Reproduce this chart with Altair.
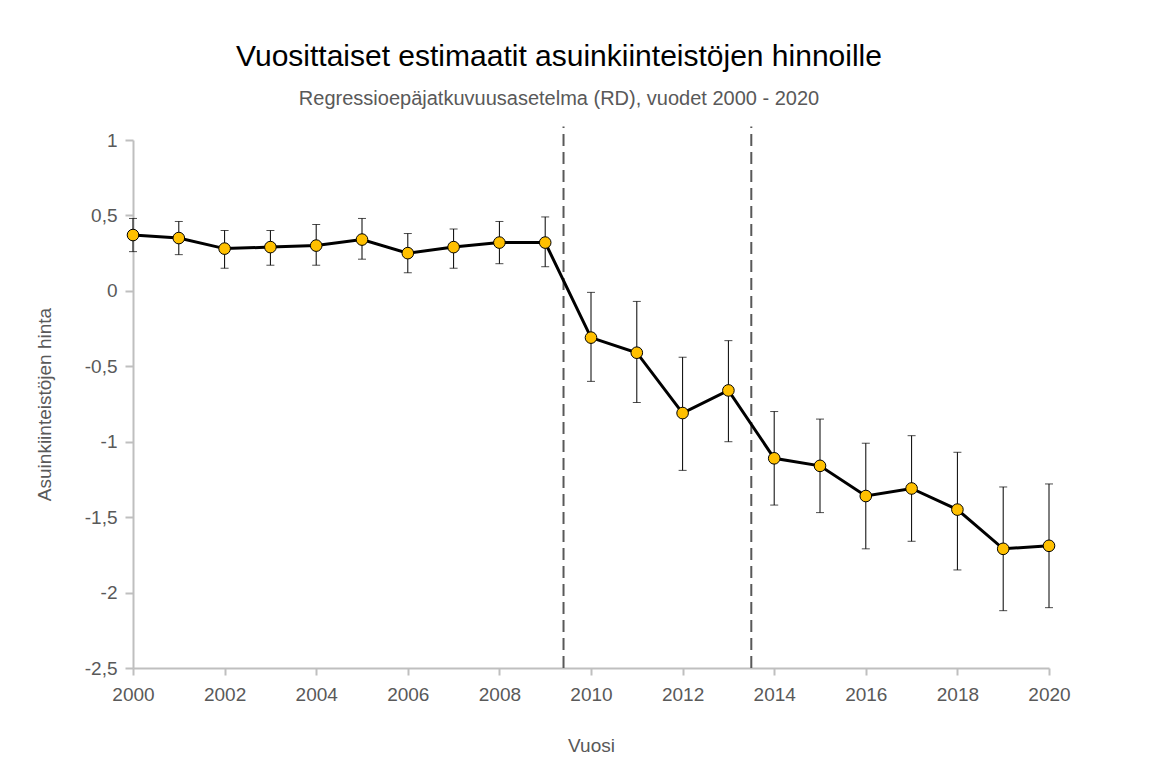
import altair as alt
import pandas as pd

years = list(range(2000, 2021))
estimate = [0.37, 0.35, 0.28, 0.29, 0.30, 0.34, 0.25, 0.29, 0.32, 0.32,
            -0.31, -0.41, -0.81, -0.66, -1.11, -1.16, -1.36, -1.31, -1.45, -1.71, -1.69]
upper = [0.48, 0.46, 0.40, 0.40, 0.44, 0.48, 0.38, 0.41, 0.46, 0.49,
         -0.01, -0.07, -0.44, -0.33, -0.80, -0.85, -1.01, -0.96, -1.07, -1.30, -1.28]
lower = [0.26, 0.24, 0.15, 0.17, 0.17, 0.21, 0.12, 0.15, 0.18, 0.16,
         -0.60, -0.74, -1.19, -1.00, -1.42, -1.47, -1.71, -1.66, -1.85, -2.12, -2.10]
breaks = [2009.4, 2013.5]
y_ticks = [1, 0.5, 0, -0.5, -1, -1.5, -2, -2.5]
x_ticks = list(range(2000, 2021, 2))

df = pd.DataFrame({'vuosi': years, 'hinta': estimate, 'ylä': upper, 'ala': lower})
df_breaks = pd.DataFrame({'raja': breaks})

FONT = "Liberation Sans Narrow, sans-serif"

x_scale = alt.Scale(domain=[2000, 2020], nice=False, zero=False)
y_scale = alt.Scale(domain=[-2.5, 1], nice=False, zero=False)

x_enc = alt.X('vuosi:Q', scale=x_scale, title='Vuosi',
              axis=alt.Axis(values=x_ticks, format='d', grid=False, labelFlush=False))
y_enc = alt.Y('hinta:Q', scale=y_scale, title='Asuinkiinteistöjen hinta',
              axis=alt.Axis(values=y_ticks, labelFlush=False,
                            labelExpr="replace(toString(datum.value), '.', ',')"))

base = alt.Chart(df)

# katkoviivat rakenteellisten muutosten kohdalla
rules = alt.Chart(df_breaks).mark_rule(
    color='#595959', strokeWidth=2, strokeDash=[12, 6]
).encode(
    x=alt.X('raja:Q', scale=x_scale, title='Vuosi'),
    y=alt.datum(-2.5),
    y2=alt.datum(1.09)
)

errors = base.mark_errorbar(
    color='black', thickness=1, ticks=alt.MarkConfig(size=8)
).encode(
    x=alt.X('vuosi:Q', scale=x_scale, title='Vuosi'),
    y=alt.Y('ala:Q', scale=y_scale, title='Asuinkiinteistöjen hinta'),
    y2='ylä:Q'
)

line = base.mark_line(color='black', strokeWidth=3).encode(x=x_enc, y=y_enc)

points = base.mark_point(
    filled=True, fill='#FFC000', stroke='black', strokeWidth=1, size=135, opacity=1
).encode(x=x_enc, y=y_enc)

chart = alt.layer(rules, errors, line, points).properties(
    width=916,
    height=528,
    title=alt.TitleParams(
        text='Vuosittaiset estimaatit asuinkiinteistöjen hinnoille',
        subtitle='Regressioepäjatkuvuusasetelma (RD), vuodet 2000 - 2020',
        anchor='middle', frame='group', dx=-32,
        font=FONT, fontSize=30, fontWeight='normal', color='black',
        subtitleFont=FONT, subtitleFontSize=20, subtitleFontWeight='normal',
        subtitleColor='#595959', subtitlePadding=17, offset=16
    ),
    padding={'left': 125, 'top': 132, 'right': 100, 'bottom': 100},
    autosize=alt.AutoSizeParams(type='none')
).configure_view(
    stroke=None
).configure_axis(
    labelFont=FONT, labelFontSize=19, labelColor='#595959', labelFontWeight='normal',
    titleFont=FONT, titleFontSize=19, titleColor='#595959', titleFontWeight='normal',
    domainColor='#bfbfbf', domainWidth=2,
    tickColor='#bfbfbf', tickWidth=2,
    gridColor='#efefef', gridWidth=2
).configure_axisY(
    tickSize=8, labelPadding=8, titlePadding=30
).configure_axisX(
    tickSize=7, labelPadding=10, titlePadding=32
)

chart.save("out.html", embed_options={"renderer": "svg", "actions": False})
